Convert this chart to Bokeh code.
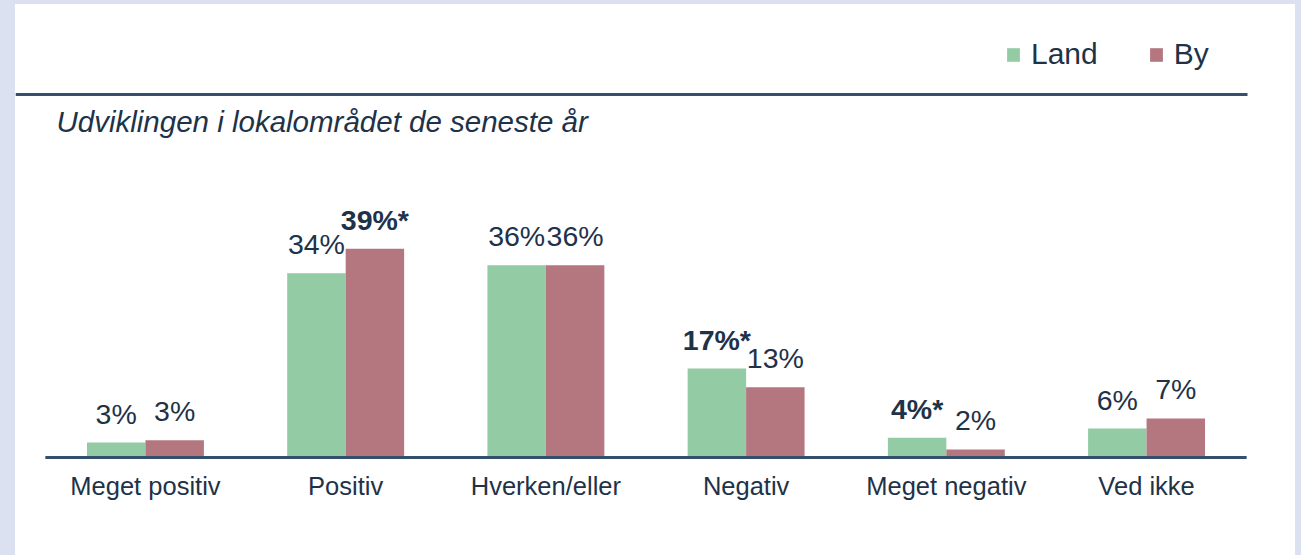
from bokeh.plotting import figure
from bokeh.models import (ColumnDataSource, Label, BoxAnnotation, FactorRange, Range1d,
                          GlobalInlineStyleSheet)
from bokeh.transform import dodge
from bokeh.core.properties import value, field
from bokeh.embed import file_html
from bokeh.resources import INLINE

categories = ["Meget positiv", "Positiv", "Hverken/eller", "Negativ", "Meget negativ", "Ved ikke"]
land_values = [2.8, 34.4, 35.9, 16.6, 3.7, 5.4]
by_values = [3.2, 39.0, 35.9, 13.1, 1.5, 7.3]
land_labels = ["3%", "34%", "36%", "17%*", "4%*", "6%"]
by_labels = ["3%", "39%*", "36%", "13%", "2%", "7%"]
land_bold = [False, False, False, True, True, False]
by_bold = [False, True, False, False, False, False]

subtitle = "Udviklingen i lokalområdet de seneste år"

GREEN = "#93cba4"
RED = "#b4777f"
NAVY = "#34506c"
TEXT = "#1e3248"
LAV = "#dbe1f1"
FONT = "Liberation Sans"

src = ColumnDataSource(data=dict(
    cat=categories,
    land=land_values,
    by=by_values,
    land_lab=land_labels,
    by_lab=by_labels,
    land_style=["bold" if b else "normal" for b in land_bold],
    by_style=["bold" if b else "normal" for b in by_bold],
))

PX_PER_PCT = 5.355
FRAME_H = 455
y0 = -2 / PX_PER_PCT

W, H = 1280, 551
p = figure(width=W, height=H,
           x_range=FactorRange(*categories, range_padding=2 * 0.149 / 6),
           y_range=Range1d(y0, y0 + FRAME_H / PX_PER_PCT),
           output_backend="svg", toolbar_location=None, y_axis_location=None,
           min_border_left=0, min_border_right=19, min_border_top=0,
           min_border_bottom=H - FRAME_H)
p.stylesheets = [GlobalInlineStyleSheet(css=(
    "html, body { background-color: %s !important; }"
    "body { padding: 4px 0 0 15px !important; overflow: hidden; }" % LAV))]
p.styles = {"background-color": "white"}
p.background_fill_color = None
p.border_fill_color = None
p.outline_line_color = None
p.xgrid.grid_line_color = None
p.ygrid.grid_line_color = None

bw = 0.292
off = 0.146
p.vbar(x=dodge("cat", -off, range=p.x_range), top="land", width=bw, source=src,
       fill_color=GREEN, line_color=None, legend_label="Land")
p.vbar(x=dodge("cat", off, range=p.x_range), top="by", width=bw, source=src,
       fill_color=RED, line_color=None, legend_label="By")

p.text(x=dodge("cat", -off, range=p.x_range), y="land", text="land_lab", source=src,
       text_align="center", text_baseline="middle", y_offset=-29,
       text_font=value(FONT), text_font_size="28.5px", text_color=TEXT,
       text_font_style=field("land_style"))
p.text(x=dodge("cat", off, range=p.x_range), y="by", text="by_lab", source=src,
       text_align="center", text_baseline="middle", y_offset=-29,
       text_font=value(FONT), text_font_size="28.5px", text_color=TEXT,
       text_font_style=field("by_style"))

# baseline across the categories
p.add_layout(BoxAnnotation(left=0, right=len(categories), bottom=0.5, top=3.5,
                           bottom_units="screen", top_units="screen",
                           fill_color=NAVY, fill_alpha=1, line_alpha=0))

ax = p.xaxis[0]
ax.axis_line_color = None
ax.major_tick_line_color = None
ax.minor_tick_line_color = None
ax.major_tick_out = 0
ax.major_label_standoff = 12
ax.major_label_text_font = FONT
ax.major_label_text_font_size = "25.5px"
ax.major_label_text_color = TEXT

leg = p.legend[0]
leg.orientation = "horizontal"
leg.location = (990, 388)
leg.padding = 0
leg.margin = 0
leg.spacing = 50
leg.label_standoff = 10
leg.glyph_width = 16
leg.glyph_height = 17
leg.label_height = 17
leg.label_text_font = FONT
leg.label_text_font_size = "30px"
leg.label_text_color = TEXT
leg.border_line_color = None
leg.background_fill_alpha = 0

# horizontal rule under the legend
p.add_layout(BoxAnnotation(left=0, right=1232, bottom=363.5, top=366.5,
                           left_units="screen", right_units="screen",
                           top_units="screen", bottom_units="screen",
                           fill_color=NAVY, fill_alpha=1, line_alpha=0))

p.add_layout(Label(x=41, y=338, x_units="screen", y_units="screen", text=subtitle,
                   text_font=FONT, text_font_size="29.5px", text_font_style="italic",
                   text_color=TEXT, text_baseline="middle"))

open("out.html", "w").write(file_html(p, INLINE))
